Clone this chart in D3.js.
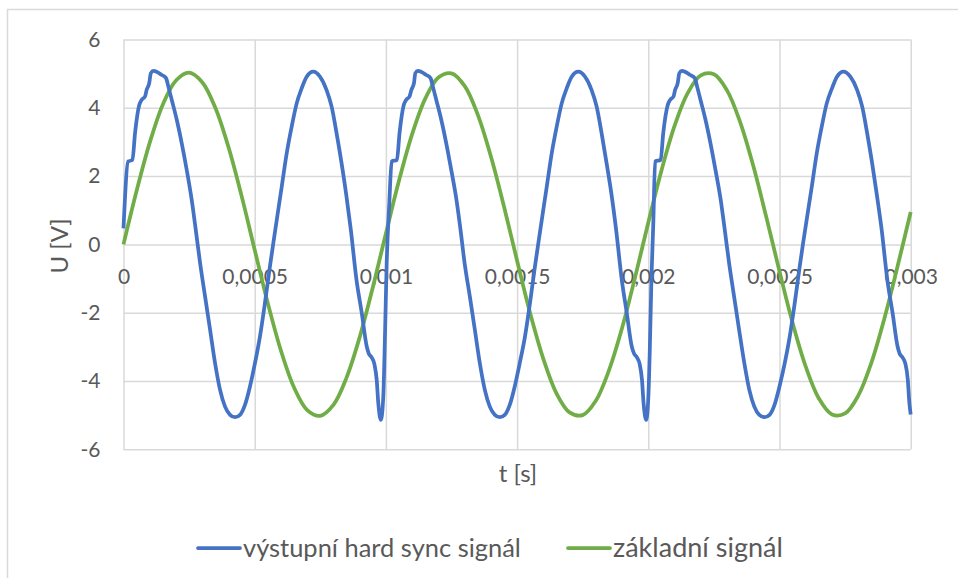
<!DOCTYPE html>
<html><head><meta charset="utf-8">
<script src="https://cdn.jsdelivr.net/npm/d3@7"></script>
<style>
body{margin:0;background:#fff;}
text{font-family:Lato,"Open Sans",sans-serif;fill:#595959;}
</style>
</head><body>
<svg id="chart" width="958" height="578"></svg>
<script>
// ---- data (time in microseconds, voltage in V) ----
const xTicks = [0, 500, 1000, 1500, 2000, 2500, 3000];
const xTickLabels = ["0", "0,0005", "0,001", "0,0015", "0,002", "0,0025", "0,003"];
const yTicks = [-6, -4, -2, 0, 2, 4, 6];
const yTickLabels = ["-6", "-4", "-2", "0", "2", "4", "6"];
const seriesNames = ["výstupní hard sync signál", "základní signál"];

const greenT = [0,50,100,150,200,250,300,350,400,450,500,550,600,650,700,750,800,850,900,950,
  1000,1050,1100,1150,1200,1250,1300,1350,1400,1450,1500,1550,1600,1650,1700,1750,1800,1850,1900,1950,
  2000,2050,2100,2150,2200,2250,2300,2350,2400,2450,2500,2550,2600,2650,2700,2750,2800,2850,2900,2950,3000];
const greenV = [0,1.57,2.98,4.10,4.80,5.03,4.75,4.00,2.85,1.42,-0.16,-1.72,-3.11,-4.19,-4.85,-5.02,-4.70,-3.90,-2.72,-1.26,
  0.32,1.87,3.23,4.27,4.89,5.01,4.64,3.80,2.58,1.11,-0.48,-2.02,-3.35,-4.36,-4.92,-5.00,-4.58,-3.69,-2.45,-0.95,
  0.64,2.16,3.47,4.43,4.95,4.98,4.51,3.58,2.30,0.79,-0.79,-2.30,-3.58,-4.51,-4.98,-4.95,-4.43,-3.47,-2.16,-0.64,0.95];

const blueT = [0,18,34,44,60,69,82,88,98,104,114,146,162,171,184,203,222,241,260,275,292,311,330,349,368,387,406,425,444,463,482,501,520,539,558,571,603,622,641,660,679,698,723,749,774,793,812,831,849,866,888,908,927,935,945,956,965,971,981,
  990,997,1003,1013,1022,
  1042,1052,1068,1077,1090,1097,1107,1112,1122,1154,1170,1179,1192,1211,1230,1249,1269,1284,1300,1320,1339,1358,1377,1396,1415,1434,1453,1472,1491,1510,1530,1549,1568,1581,1613,1632,1651,1670,1689,1708,1733,1759,1784,1803,1822,1841,1860,1877,1899,1918,1937,1946,1956,1967,1976,1982,1992,
  2000,2006,2012,2019,2026,
  2047,2057,2074,2083,2096,2102,2112,2118,2128,2160,2177,2186,2199,2218,2237,2256,2276,2291,2308,2327,2346,2366,2385,2404,2423,2443,2462,2481,2500,2520,2539,2558,2577,2590,2623,2642,2661,2680,2700,2719,2744,2770,2796,2815,2834,2853,2871,2889,2911,2931,2950,2958,2968,2980,2989,2995,3000];
const blueV = [0.47,2.43,2.47,3.26,4.08,4.23,4.33,4.52,4.72,5.01,5.08,4.96,4.87,4.62,4.23,3.65,2.96,2.18,1.30,0.45,-0.55,-1.53,-2.50,-3.48,-4.26,-4.75,-4.99,-5.06,-4.99,-4.70,-4.16,-3.48,-2.70,-1.72,-0.65,0.04,1.69,2.67,3.45,4.13,4.57,4.91,5.06,4.91,4.52,4.04,3.26,2.38,1.45,0.45,-1.04,-2.01,-2.99,-3.20,-3.30,-3.50,-3.97,-4.65,-5.14,
  -4.46,-2.50,-0.55,1.21,2.43,
  2.47,3.26,4.08,4.23,4.33,4.52,4.72,5.01,5.08,4.96,4.87,4.62,4.23,3.65,2.96,2.18,1.30,0.45,-0.55,-1.53,-2.50,-3.48,-4.26,-4.75,-4.99,-5.06,-4.99,-4.70,-4.16,-3.48,-2.70,-1.72,-0.65,0.04,1.69,2.67,3.45,4.13,4.57,4.91,5.06,4.91,4.52,4.04,3.26,2.38,1.45,0.45,-1.04,-2.01,-2.99,-3.20,-3.30,-3.50,-3.97,-4.65,-5.14,
  -4.50,-3.00,-1.00,0.60,2.43,
  2.47,3.26,4.08,4.23,4.33,4.52,4.72,5.01,5.08,4.96,4.87,4.62,4.23,3.65,2.96,2.18,1.30,0.45,-0.55,-1.53,-2.50,-3.48,-4.26,-4.75,-4.99,-5.06,-4.99,-4.70,-4.16,-3.48,-2.70,-1.72,-0.65,0.04,1.69,2.67,3.45,4.13,4.57,4.91,5.06,4.91,4.52,4.04,3.26,2.38,1.45,0.45,-1.04,-2.01,-2.99,-3.20,-3.30,-3.50,-3.97,-4.65,-4.98];

const colors = ["#4472C4", "#70AD47"];

// ---- layout ----
const svg = d3.select("#chart");
const L = 123.5, R = 910.7, T = 39.5, B = 449.3;
const x = d3.scaleLinear().domain([0, 3000]).range([L, R]);
const y = d3.scaleLinear().domain([-6, 6]).range([B, T]);

// outer chart border
svg.append("rect").attr("x", 7.5).attr("y", 9.5).attr("width", 960).attr("height", 580)
  .attr("fill", "none").attr("stroke", "#d9d9d9").attr("stroke-width", 1.5);

// gridlines via axes
const gx = svg.append("g").attr("transform", `translate(0,${B})`)
  .call(d3.axisBottom(x).tickValues(xTicks).tickSize(-(B - T)).tickFormat(""));
const gy = svg.append("g").attr("transform", `translate(${L},0)`)
  .call(d3.axisLeft(y).tickValues(yTicks).tickSize(-(R - L)).tickFormat(""));
[gx, gy].forEach(g => {
  g.select(".domain").remove();
  g.selectAll(".tick line").attr("stroke", "#d9d9d9").attr("stroke-width", 1.5);
});

// y tick labels
const ly = svg.append("g").attr("transform", `translate(${L},0)`)
  .call(d3.axisLeft(y).tickValues(yTicks).tickSize(0).tickPadding(23)
    .tickFormat((d, i) => yTickLabels[i]));
ly.select(".domain").remove();
ly.selectAll("text").attr("font-size", 21).attr("font-family", "Lato").attr("fill", "#595959");

// x tick labels (along the zero line)
const lx = svg.append("g").attr("transform", `translate(0,${y(0)})`)
  .call(d3.axisBottom(x).tickValues(xTicks).tickSize(0).tickPadding(25)
    .tickFormat((d, i) => xTickLabels[i]));
lx.select(".domain").remove();
lx.selectAll("text").attr("font-size", 21).attr("font-family", "Lato").attr("fill", "#595959");

// series
const blue = blueT.map((t, i) => [t, blueV[i]]);
const green = greenT.map((t, i) => [t, greenV[i]]);
svg.append("path")
  .attr("d", d3.line().x(d => x(d[0])).y(d => y(d[1])).curve(d3.curveCatmullRom)(green))
  .attr("fill", "none").attr("stroke", colors[1]).attr("stroke-width", 3.75).attr("stroke-linejoin", "round");
svg.append("path")
  .attr("d", d3.line().x(d => x(d[0])).y(d => y(d[1])).curve(d3.curveMonotoneX)(blue))
  .attr("fill", "none").attr("stroke", colors[0]).attr("stroke-width", 3.75).attr("stroke-linejoin", "round");

// axis titles
svg.append("text").attr("x", 518).attr("y", 482).attr("text-anchor", "middle")
  .attr("font-size", 24).text("t [s]");
svg.append("text").attr("transform", "translate(68,246) rotate(-90)").attr("text-anchor", "middle")
  .attr("font-size", 24).text("U [V]");

// legend
const legX = [198, 568];
const legW = [278, 170];
seriesNames.forEach((name, i) => {
  const g = svg.append("g").attr("transform", `translate(${legX[i]},548)`);
  g.append("line").attr("x1", 0).attr("x2", 42).attr("y1", 0).attr("y2", 0)
    .attr("stroke", colors[i]).attr("stroke-width", 3.75).attr("stroke-linecap", "round");
  const t = g.append("text").attr("x", 45).attr("y", 8.5).attr("font-size", 25).text(name);
  const w = t.node().getComputedTextLength();
  t.attr("font-size", Math.min(27, 25 * legW[i] / w));
});
</script>
</body></html>
